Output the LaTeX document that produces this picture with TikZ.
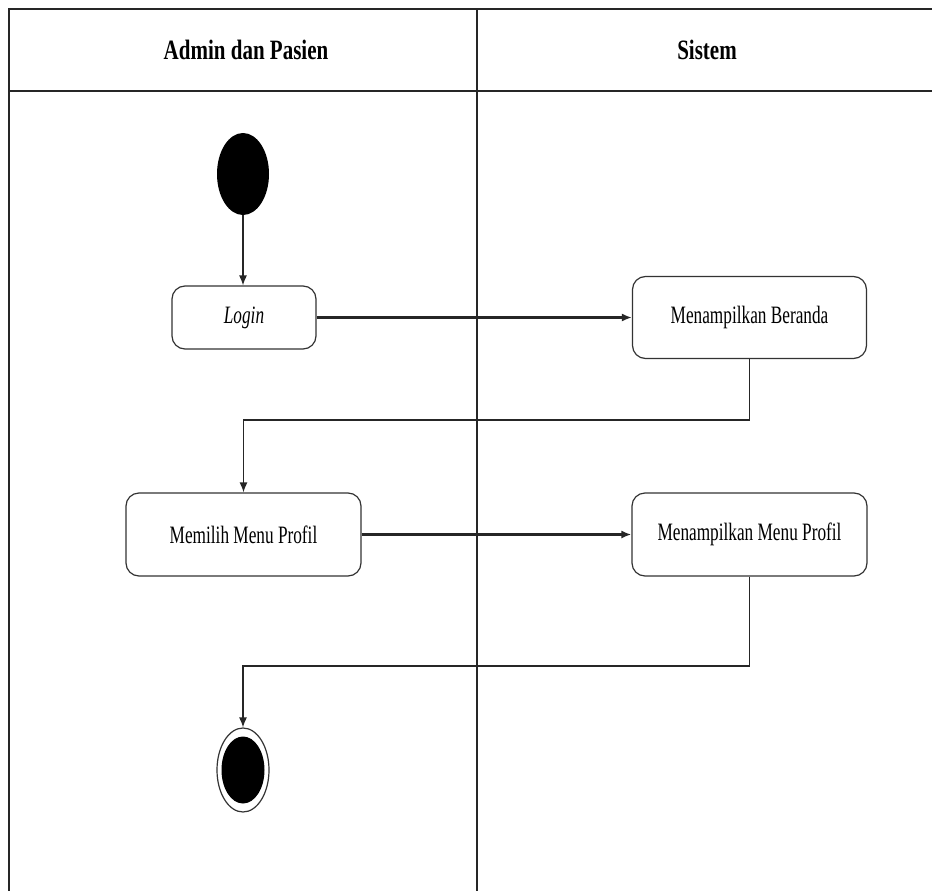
\documentclass[tikz,border=0pt]{standalone}
\usepackage{fontspec}
\setmainfont{Liberation Serif}
\usetikzlibrary{shapes.geometric,arrows.meta}
\begin{document}
\begin{tikzpicture}[x=1pt,y=-1pt,
  lane/.style={draw=black!85,line width=1.6pt},
  act/.style={draw=black!80,line width=1.2pt,rounded corners=13pt,fill=white,
    inner sep=0pt,align=center,
    font=\fontsize{25}{30}\selectfont},
  head/.style={font=\bfseries\fontsize{28}{32}\selectfont,inner sep=0pt},
  flow/.style={draw=black!85,line width=1.3pt,-{Latex[length=10pt,width=8pt]}},
  flowthick/.style={flow,line width=2.2pt}]
\useasboundingbox (0,0) rectangle (932,891);
\fill[white] (0,0) rectangle (932,891);

% swimlane frame
\draw[lane] (932,9) -- (9,9) -- (9,891);
\draw[lane,line width=2.2pt] (9,91) -- (932,91);
\draw[lane] (477,9) -- (477,891);

% lane titles
\node[head] (laneA) at (246,50) {\scalebox{0.75}[1]{Admin dan Pasien}};
\node[head] (laneB) at (707,50) {\scalebox{0.75}[1]{Sistem}};

% initial and final states
\node[ellipse,fill=black,minimum width=52pt,minimum height=82pt,inner sep=0pt] (start) at (243,174) {};
\node[ellipse,draw=black!80,line width=1.2pt,minimum width=52pt,minimum height=84pt,inner sep=0pt] (end) at (243,770) {};
\node[ellipse,fill=black,minimum width=43pt,minimum height=67pt,inner sep=0pt] (endcore) at (243,770) {};

% activities
\node[act,minimum width=144pt,minimum height=63pt] (login) at (244,317.5) {\scalebox{0.69}[1]{\itshape Login}};
\node[act,minimum width=234pt,minimum height=82pt] (beranda) at (749.5,317.5) {\scalebox{0.69}[1]{Menampilkan Beranda}};
\node[act,minimum width=235pt,minimum height=83pt] (pilih) at (243.5,534.5) {\scalebox{0.69}[1]{Memilih Menu Profil}};
\node[act,minimum width=235pt,minimum height=83pt] (profil) at (749.5,534.5) {\scalebox{0.69}[1]{Menampilkan Menu Profil}};

% bends of the return flows
\coordinate (bendA) at (749.5,420);
\coordinate (bendB) at (749.5,666);

% transitions
\draw[flow] (start) -- (login.north -| start);
\draw[flowthick] (login.east) -- (beranda.west);
\draw[flow] (beranda.south) -- (bendA) -| (pilih.north);
\draw[flowthick] (pilih.east) -- (profil.west);
\draw[flow] (profil.south) -- (bendB) -| (end.north);
\end{tikzpicture}
\end{document}
